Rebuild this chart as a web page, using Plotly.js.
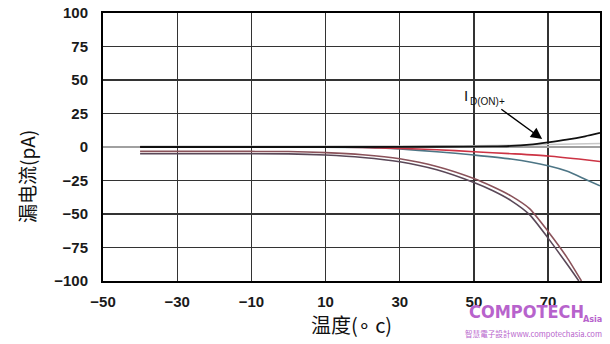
<!DOCTYPE html>
<html>
<head>
<meta charset="utf-8">
<script src="https://cdn.plot.ly/plotly-3.0.1.min.js"></script>
<style>html,body{margin:0;padding:0;background:#fff;}#chart{width:610px;height:344px;}</style>
</head>
<body>
<div id="chart"></div>
<script>
// Temperature (°C) and leakage current (pA)
const xBlack = [-40, -20, 0, 20, 40, 55, 60, 65, 70, 75, 80, 84];
const yBlack = [0, 0, 0, 0, 0.2, 0.4, 0.8, 1.8, 3.5, 5.5, 8, 10.5];

const xGray = [-40, 0, 40, 60, 70, 84];
const yGray = [0.6, 0.6, 0.8, 1.3, 1.8, 2.6];

const xRed = [-40, 0, 10, 20, 30, 40, 50, 60, 70, 80, 84];
const yRed = [0, 0, 0, -0.4, -1, -2, -3.5, -5, -6.7, -9.5, -10.8];

const xTeal = [-40, 0, 20, 25, 30, 40, 50, 60, 70, 75, 80, 84];
const yTeal = [0, 0, -0.3, -0.8, -1.5, -3.5, -6, -9, -14, -18, -24, -29];

const xBrownA = [-40, -20, 0, 10, 20, 30, 40, 50, 55, 60, 65, 70, 75, 79];
const yBrownA = [-3.3, -3.3, -3.4, -4.2, -5.8, -8.8, -14.5, -23.5, -29.5, -36.5, -46, -63, -82, -100];

const xBrownB = [-40, -20, 0, 10, 20, 30, 40, 50, 55, 60, 65, 70, 75, 78.3];
const yBrownB = [-5, -5, -5.1, -6, -7.8, -11, -17, -26.5, -32.5, -40, -50.5, -68, -87, -100];

const xTicks = [-50, -30, -10, 10, 30, 50, 70];
const yTicks = [-100, -75, -50, -25, 0, 25, 50, 75, 100];

function line(x, y, color, width) {
  return {x: x, y: y, type: 'scatter', mode: 'lines',
    line: {color: color, width: width, shape: 'spline', smoothing: 0.6},
    hoverinfo: 'skip', showlegend: false};
}

const traces = [
  line(xGray, yGray, '#c8c8c8', 1.5),
  line(xTeal, yTeal, '#4d7585', 1.6),
  line(xRed, yRed, '#cc3344', 1.6),
  line(xBrownA, yBrownA, '#8a525a', 1.6),
  line(xBrownB, yBrownB, '#5a4858', 1.6),
  line(xBlack, yBlack, '#111111', 1.8)
];

const tickFont = {family: 'Liberation Sans, Arial, sans-serif', size: 15, color: '#1a1a1a', weight: 'bold'};
const wm = '#b763cc';

const layout = {
  width: 610, height: 344,
  margin: {l: 103, r: 10, t: 13, b: 63},
  paper_bgcolor: '#ffffff', plot_bgcolor: '#ffffff',
  showlegend: false,
  xaxis: {
    range: [-50, 84], tickvals: xTicks, ticks: '', ticklabelstandoff: 6,
    tickfont: tickFont,
    showgrid: true, gridcolor: '#333333', gridwidth: 1.3,
    zeroline: false,
    showline: true, linecolor: '#000000', linewidth: 2, mirror: true,
    title: {text: '温度(∘ c)', font: {family: 'Noto Sans CJK SC, sans-serif', size: 20, color: '#111'}, standoff: 3}
  },
  yaxis: {
    range: [-100, 100], tickvals: yTicks, ticks: '', ticklabelstandoff: 10,
    tickfont: tickFont,
    showgrid: true, gridcolor: '#333333', gridwidth: 1.3,
    zeroline: true, zerolinecolor: '#a0a0a0', zerolinewidth: 1.5,
    showline: true, linecolor: '#000000', linewidth: 2, mirror: true
  },
  annotations: [
    {x: -0.153, y: 0.392, xref: 'paper', yref: 'paper', xanchor: 'center', yanchor: 'middle',
     showarrow: false, textangle: -90,
     text: '漏电流(pA)', font: {family: 'Noto Sans CJK SC, sans-serif', size: 19, color: '#111'}},
    {x: 48.0, y: 38.5, xref: 'x', yref: 'y', showarrow: false,
     text: 'I', font: {family: 'Liberation Sans, Arial, sans-serif', size: 15, color: '#111'}},
    {x: 48.4, y: 34, xref: 'x', yref: 'y', xanchor: 'left', showarrow: false,
     text: 'D(ON)+', font: {family: 'Liberation Sans, Arial, sans-serif', size: 10, color: '#111'}},
    {x: 68.4, y: 6, xref: 'x', yref: 'y', ax: 57, ay: 29, axref: 'x', ayref: 'y',
     text: '', showarrow: true, arrowhead: 2, arrowsize: 1.6, arrowwidth: 1.4, arrowcolor: '#000'},
    {x: 0.733, y: -0.112, xref: 'paper', yref: 'paper', xanchor: 'left', yanchor: 'middle', showarrow: false,
     text: 'COMPOTECH', font: {family: 'DejaVu Sans Condensed, Liberation Sans Narrow, sans-serif', size: 18, color: wm, weight: 'bold'}},
    {x: 0.962, y: -0.14, xref: 'paper', yref: 'paper', xanchor: 'left', yanchor: 'middle', showarrow: false,
     text: 'Asia', font: {family: 'DejaVu Sans Condensed, sans-serif', size: 9, color: wm, weight: 'bold'}},
    {x: 1.008, y: -0.196, xref: 'paper', yref: 'paper', xanchor: 'right', yanchor: 'middle', showarrow: false,
     text: '智慧電子設計www.compotechasia.com', font: {family: 'Noto Sans CJK TC, sans-serif', size: 7.6, color: wm}}
  ]
};

Plotly.newPlot('chart', traces, layout, {staticPlot: true, displayModeBar: false});
</script>
</body>
</html>
